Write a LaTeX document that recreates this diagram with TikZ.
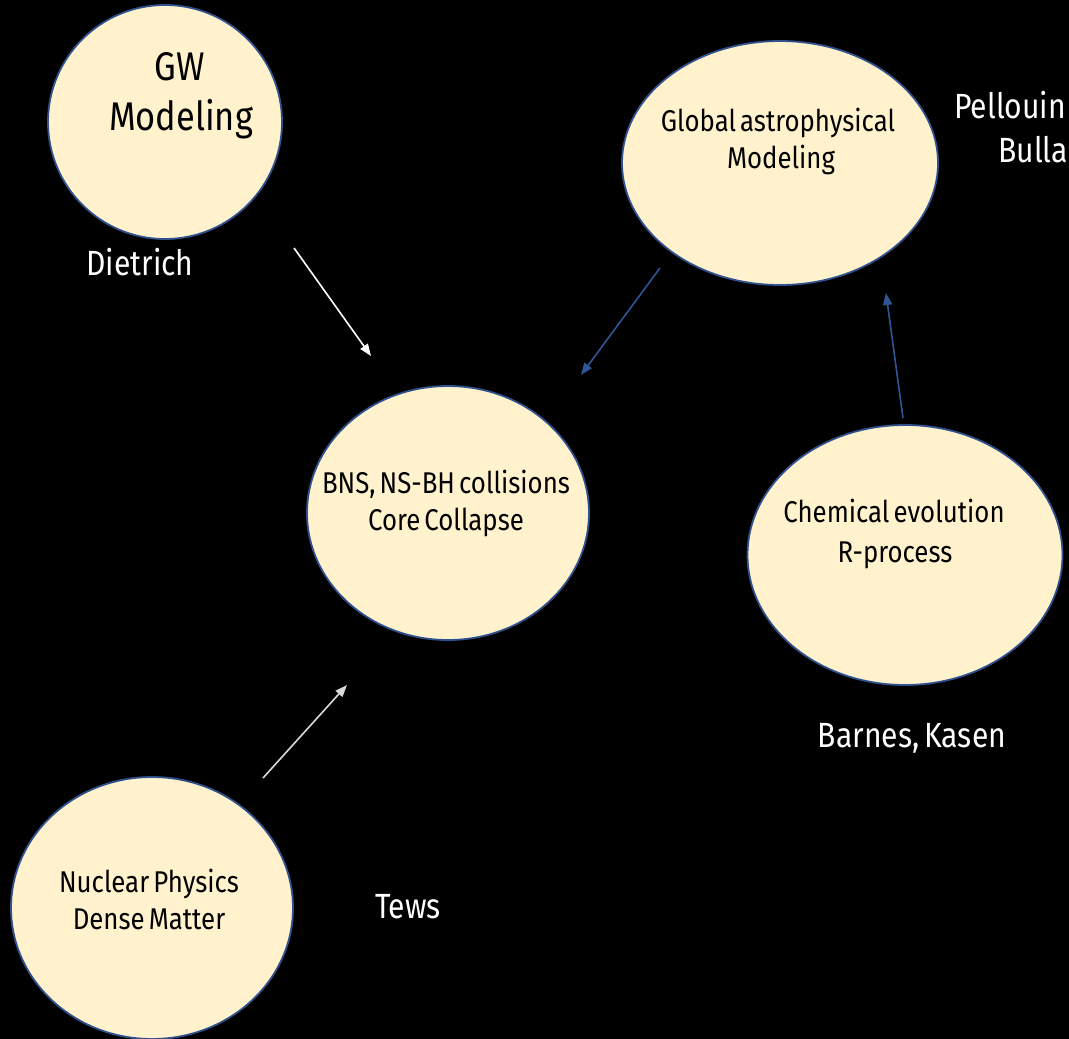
\documentclass[tikz,border=0pt]{standalone}
\usepackage{fontspec}
\setmainfont[FakeStretch=0.86,WordSpace=0.6]{Fira Sans}
\usetikzlibrary{shapes.geometric,arrows.meta}
\definecolor{cream}{HTML}{FFF2CC}
\definecolor{edgeblue}{HTML}{2F528F}
\definecolor{arrowblue}{HTML}{2F5597}
\definecolor{arrowgray}{HTML}{D9D9D9}
\tikzset{
  bubble/.style={ellipse, draw=edgeblue, fill=cream, line width=1.8pt, inner sep=0pt},
  intext/.style={anchor=base, text=black, inner sep=0pt, font=\fontsize{30}{36}\selectfont},
  bigtext/.style={anchor=base, text=black, inner sep=0pt, font=\fontsize{40}{48}\selectfont},
  lab/.style={anchor=base, text=white, inner sep=0pt, font=\fontsize{35}{42}\selectfont},
  conn/.style={line width=1.6pt, -{Triangle[length=12pt,width=9pt]}},
}
\begin{document}
\begin{tikzpicture}[x=1pt,y=-1pt]
\fill[black] (0,0) rectangle (1069,1039);
\useasboundingbox (0,0) rectangle (1069,1039);
% bubbles
\node[bubble, minimum width=234pt, minimum height=234pt] (gw) at (165,122) {};
\node[bubble, minimum width=316pt, minimum height=244pt] (glob) at (780,163) {};
\node[bubble, minimum width=282pt, minimum height=254pt] (bns) at (448,513) {};
\node[bubble, minimum width=315pt, minimum height=260pt] (chem) at (905,555) {};
\node[bubble, minimum width=282pt, minimum height=262pt] (nuc) at (152,908) {};
% texts in bubbles
\node[bigtext] (gw1) at (180,80) {GW};
\node[bigtext] (gw2) at (181,130) {Modeling};
\node[intext] (gl1) at (778,131) {Global astrophysical};
\node[intext] (gl2) at (781,168) {Modeling};
\node[intext] (bn1) at (446,493) {BNS, NS-BH collisions};
\node[intext] (bn2) at (446,530) {Core Collapse};
\node[intext] (ch1) at (894,522) {Chemical evolution};
\node[intext] (ch2) at (895,562) {R-process};
\node[intext] (nu1) at (149,892) {Nuclear Physics};
\node[intext] (nu2) at (149,929) {Dense Matter};
% labels
\node[lab] (ldie) at (140,275) {Dietrich};
\node[lab, anchor=base west] (lpel) at (954,118) {Pellouin};
\node[lab, anchor=base west] (lbul) at (998,162) {Bulla};
\node[lab] (lbar) at (912,747) {Barnes, Kasen};
\node[lab] (ltew) at (408,918) {Tews};
% connectors
\coordinate (a1s) at (294,248); \coordinate (a1e) at (371,356);
\coordinate (a2s) at (660,268); \coordinate (a2e) at (581,375);
\coordinate (a3s) at (903,418); \coordinate (a3e) at (886,293);
\coordinate (a4s) at (263,778); \coordinate (a4e) at (347,685);
\draw[conn, white] (a1s) -- (a1e);
\draw[conn, arrowblue] (a2s) -- (a2e);
\draw[conn, arrowblue] (a3s) -- (a3e);
\draw[conn, arrowgray] (a4s) -- (a4e);
\end{tikzpicture}
\end{document}
